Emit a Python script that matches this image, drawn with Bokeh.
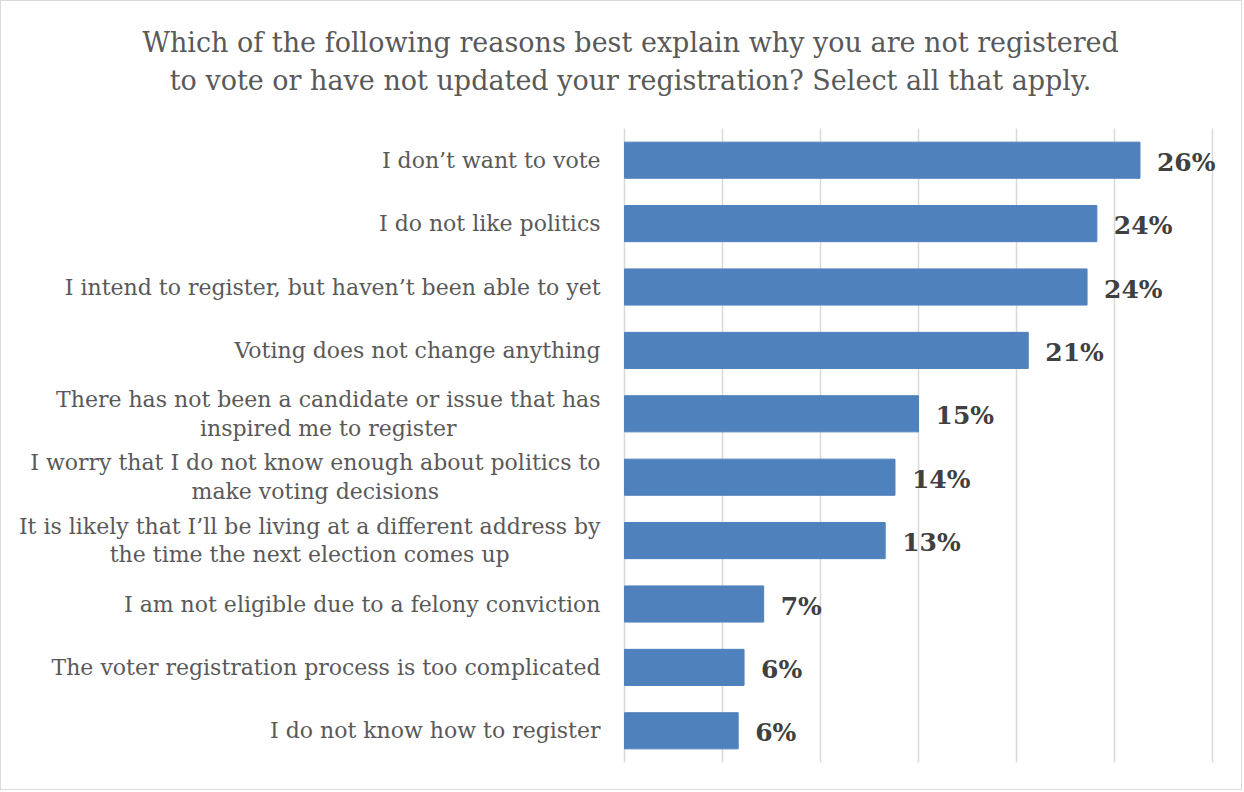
from bokeh.plotting import figure
from bokeh.models import Range1d, Label, LabelSet, ColumnDataSource
from bokeh.core.properties import value
from bokeh.embed import file_html
from bokeh.resources import INLINE

# ---- data ----
categories = [
    "I don\u2019t want to vote",
    "I do not like politics",
    "I intend to register, but haven\u2019t been able to yet",
    "Voting does not change anything",
    "There has not been a candidate or issue that has\ninspired me to register",
    "I worry that I do not know enough about politics to\nmake voting decisions",
    "It is likely that I\u2019ll be living at a different address by\nthe time the next election comes up",
    "I am not eligible due to a felony conviction",
    "The voter registration process is too complicated",
    "I do not know how to register",
]
values = [26.3, 24.1, 23.6, 20.6, 15.0, 13.8, 13.3, 7.1, 6.1, 5.8]
value_labels = ["26%", "24%", "24%", "21%", "15%", "14%", "13%", "7%", "6%", "6%"]
x_ticks = [0, 5, 10, 15, 20, 25, 30]
title_text = ("Which of the following reasons best explain why you are not registered\n"
              "to vote or have not updated your registration? Select all that apply.")

# ---- layout constants (screen pixels of the page) ----
W, H = 1244, 792
FRAME_L, FRAME_R, FRAME_T, FRAME_B = 624, 1212, 128, 762
X_MAX = 30
N = len(categories)
FONT = "DejaVu Serif"

def px_x(px):
    return (px - FRAME_L) / (FRAME_R - FRAME_L) * X_MAX

def px_y(py):
    return (py - FRAME_T) / (FRAME_B - FRAME_T) * N

p = figure(width=W - 2, height=H - 2,
           x_range=Range1d(px_x(1), px_x(W - 1)),
           y_range=Range1d(px_y(H - 1), px_y(1)),
           output_backend="svg", toolbar_location=None, title=None,
           min_border=0)
p.styles = {"border": "1px solid #d9d9d9"}
p.outline_line_color = None
p.background_fill_color = "white"
p.border_fill_color = "white"
p.xgrid.visible = False
p.ygrid.visible = False
p.xaxis.visible = False
p.yaxis.visible = False

# vertical gridlines from the tick list
p.segment(x0=x_ticks, y0=[0] * len(x_ticks), x1=x_ticks, y1=[N] * len(x_ticks),
          line_color="#d9d9d9", line_width=1.5)

ys = [i + 0.5 for i in range(N)]
src = ColumnDataSource(dict(y=ys, right=values, lbl=value_labels))
p.hbar(y="y", left=0, right="right", height=0.57, source=src,
       fill_color="#4F81BD", line_color="#4F81BD")

p.add_layout(LabelSet(x="right", y="y", text="lbl", source=src, x_offset=17,
                      y_offset=-2,
                      text_baseline="middle", text_align="left",
                      text_font=value(FONT), text_font_style="bold",
                      text_font_size="25px", text_color="#404040"))

for cat, y in zip(categories, ys):
    p.add_layout(Label(x=px_x(600), y=y, text=cat, anchor="center_right",
                       text_align="center", text_baseline="middle",
                       text_font=FONT, text_font_size="22px",
                       text_color="#595959", text_line_height=1.14))

p.add_layout(Label(x=px_x(630), y=px_y(61), text=title_text, anchor="center",
                   text_align="center", text_baseline="middle",
                   text_font=FONT, text_font_size="27px",
                   text_color="#595959", text_line_height=1.21))

open("out.html", "w").write(file_html(p, INLINE))
